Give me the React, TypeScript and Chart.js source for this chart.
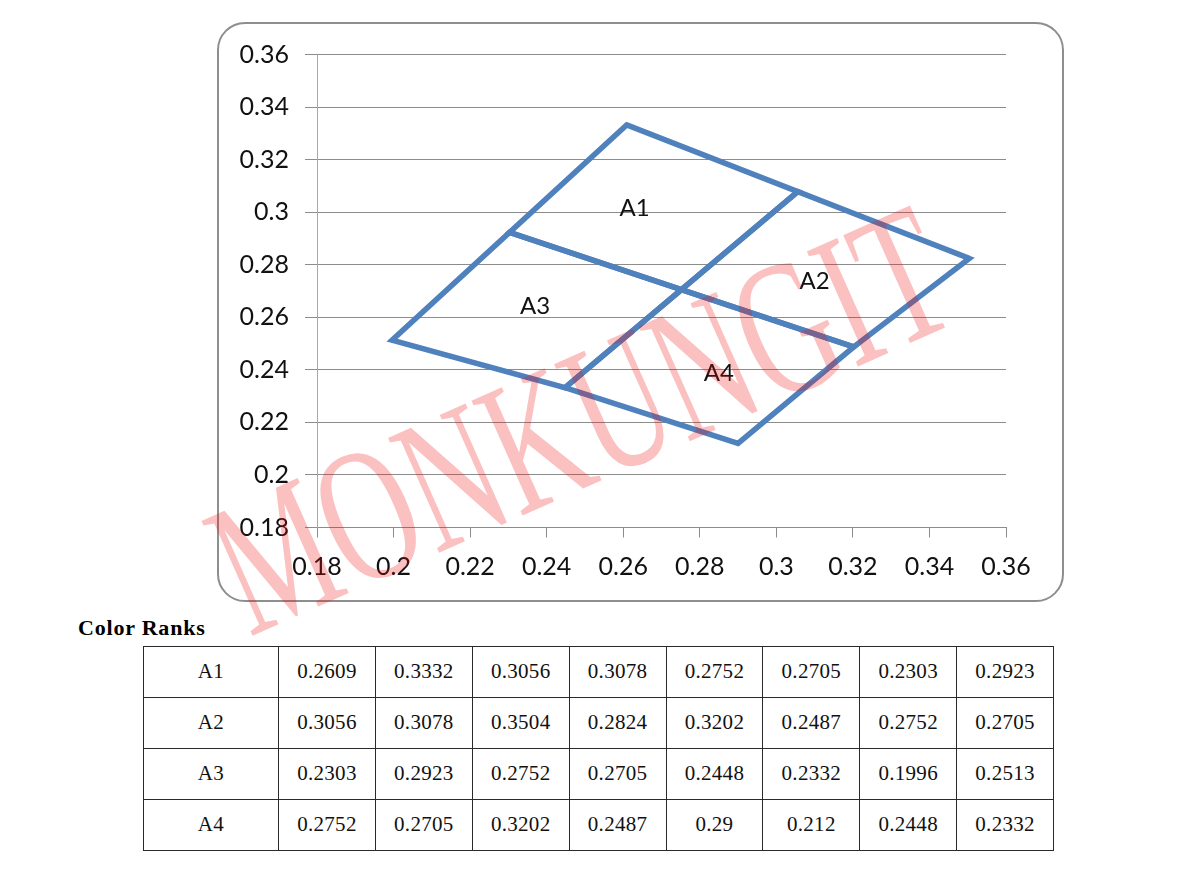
import React, { useEffect, useRef } from "react";
import { Chart, registerables } from "chart.js";

Chart.register(...registerables);

// Region names
const regionNames = ["A1", "A2", "A3", "A4"];

// Corner coordinates of each region (x1, y1, x2, y2, x3, y3, x4, y4)
const A1 = [0.2609, 0.3332, 0.3056, 0.3078, 0.2752, 0.2705, 0.2303, 0.2923];
const A2 = [0.3056, 0.3078, 0.3504, 0.2824, 0.3202, 0.2487, 0.2752, 0.2705];
const A3 = [0.2303, 0.2923, 0.2752, 0.2705, 0.2448, 0.2332, 0.1996, 0.2513];
const A4 = [0.2752, 0.2705, 0.3202, 0.2487, 0.29, 0.212, 0.2448, 0.2332];

// Axis ticks
const xTickValues = [0.18, 0.2, 0.22, 0.24, 0.26, 0.28, 0.3, 0.32, 0.34, 0.36];
const xTickLabels = ["0.18", "0.2", "0.22", "0.24", "0.26", "0.28", "0.3", "0.32", "0.34", "0.36"];
const yTickValues = [0.18, 0.2, 0.22, 0.24, 0.26, 0.28, 0.3, 0.32, 0.34, 0.36];
const yTickLabels = ["0.18", "0.2", "0.22", "0.24", "0.26", "0.28", "0.3", "0.32", "0.34", "0.36"];

// Region label anchor points (data units)
const labelXs = [0.263, 0.31, 0.237, 0.285];
const labelYs = [0.3016, 0.2738, 0.2643, 0.2388];

const tableTitle = "Color Ranks";
const watermark = "MONKUNGIT";

const series = [A1, A2, A3, A4];

function toPolygon(vals: number[]) {
  const pts: { x: number; y: number }[] = [];
  for (let i = 0; i < vals.length; i += 2) pts.push({ x: vals[i], y: vals[i + 1] });
  // close the outline (repeat first two corners so the join is clean)
  pts.push(pts[0]);
  pts.push(pts[1]);
  return pts;
}

const fmt = (v: number) => String(v);

export default function App() {
  const canvasRef = useRef<HTMLCanvasElement | null>(null);

  useEffect(() => {
    if (!canvasRef.current) return;
    const labelPlugin = {
      id: "regionLabels",
      afterDatasetsDraw(chart: any) {
        const ctx = chart.ctx;
        const xs = chart.scales.x;
        const ys = chart.scales.y;
        ctx.save();
        ctx.font = "24px Lato";
        ctx.fillStyle = "#111";
        ctx.textAlign = "center";
        ctx.textBaseline = "middle";
        regionNames.forEach((n, i) => {
          ctx.fillText(n, xs.getPixelForValue(labelXs[i]), ys.getPixelForValue(labelYs[i]));
        });
        ctx.restore();
      },
    };

    const chart = new Chart(canvasRef.current, {
      type: "scatter",
      data: {
        datasets: series.map((s, i) => ({
          label: regionNames[i],
          data: toPolygon(s),
          showLine: true,
          borderColor: "#4F81BD",
          backgroundColor: "#4F81BD",
          borderWidth: 5.5,
          borderJoinStyle: "miter",
          pointRadius: 0,
          pointHoverRadius: 0,
          fill: false,
          tension: 0,
        })),
      },
      options: {
        animation: false,
        responsive: false,
        maintainAspectRatio: false,
        layout: { padding: { top: 32.5, right: 58, left: 0, bottom: 0 } },
        plugins: { legend: { display: false }, tooltip: { enabled: false } },
        scales: {
          x: {
            type: "linear",
            min: 0.18,
            max: 0.36,
            afterBuildTicks: (s: any) => {
              s.ticks = xTickValues.map((v) => ({ value: v }));
            },
            afterFit: (s: any) => {
              s.height = 74.5;
            },
            grid: {
              display: true,
              drawOnChartArea: false,
              drawTicks: true,
              tickLength: 10,
              color: "#8c8c8c",
              lineWidth: 1,
            },
            border: { display: true, color: "#8c8c8c", width: 1 },
            ticks: {
              autoSkip: false,
              maxRotation: 0,
              padding: 14,
              color: "#111",
              font: { family: "Lato", size: 25 },
              callback: (v: any, idx: number) => xTickLabels[idx] ?? fmt(v),
            },
          },
          y: {
            type: "linear",
            min: 0.18,
            max: 0.36,
            afterBuildTicks: (s: any) => {
              s.ticks = yTickValues.map((v) => ({ value: v }));
            },
            afterFit: (s: any) => {
              s.width = 100;
            },
            grid: {
              display: true,
              drawOnChartArea: true,
              drawTicks: true,
              tickLength: 12,
              color: "#8c8c8c",
              lineWidth: 1,
            },
            border: { display: true, color: "#a8a8a8", width: 1 },
            ticks: {
              autoSkip: false,
              padding: 16,
              color: "#111",
              font: { family: "Lato", size: 25 },
              callback: (v: any, idx: number) => yTickLabels[idx] ?? fmt(v),
            },
          },
        },
      },
      plugins: [labelPlugin],
    } as any);
    return () => chart.destroy();
  }, []);

  const cellBase: React.CSSProperties = {
    border: "1px solid #2a2a2a",
    textAlign: "center",
    verticalAlign: "middle",
    padding: 0,
    height: 50,
    fontFamily: "'Liberation Serif', serif",
    fontSize: 21,
    letterSpacing: 0.3,
    color: "#111",
  };

  return (
    <div
      style={{
        position: "absolute",
        left: 0,
        top: 0,
        width: 1186,
        height: 888,
        background: "#fff",
        overflow: "hidden",
      }}
    >
      <canvas
        ref={canvasRef}
        width={847}
        height={580}
        style={{ position: "absolute", left: 217, top: 22, width: 847, height: 580 }}
      />
      <div
        style={{
          position: "absolute",
          left: 217,
          top: 22,
          width: 847,
          height: 580,
          boxSizing: "border-box",
          border: "2px solid #8e8e8e",
          borderRadius: 28,
          pointerEvents: "none",
        }}
      />
      <div
        style={{
          position: "absolute",
          left: 78,
          top: 616.5,
          fontFamily: "'Liberation Serif', serif",
          fontWeight: "bold",
          fontSize: 22,
          lineHeight: "22px",
          letterSpacing: 0.8,
          color: "#000",
          whiteSpace: "nowrap",
        }}
      >
        {tableTitle}
      </div>
      <table
        style={{
          position: "absolute",
          left: 143,
          top: 645.5,
          borderCollapse: "collapse",
          tableLayout: "fixed",
          width: 910,
        }}
      >
        <colgroup>
          <col style={{ width: 135 }} />
          {A1.map((_, i) => (
            <col key={i} style={{ width: 96.875 }} />
          ))}
        </colgroup>
        <tbody>
          {series.map((s, r) => (
            <tr key={r}>
              <td style={cellBase}>{regionNames[r]}</td>
              {s.map((v, c) => (
                <td key={c} style={cellBase}>
                  {String(v)}
                </td>
              ))}
            </tr>
          ))}
        </tbody>
      </table>
      <div
        style={{
          position: "absolute",
          left: 580,
          top: 420,
          transform: "translate(-50%, -50%) rotate(-24deg) scaleX(0.66)",
          fontFamily: "'Liberation Serif', serif",
          fontSize: 192,
          lineHeight: "192px",
          color: "rgba(240, 10, 10, 0.26)",
          whiteSpace: "nowrap",
          pointerEvents: "none",
        }}
      >
        {watermark}
      </div>
    </div>
  );
}
